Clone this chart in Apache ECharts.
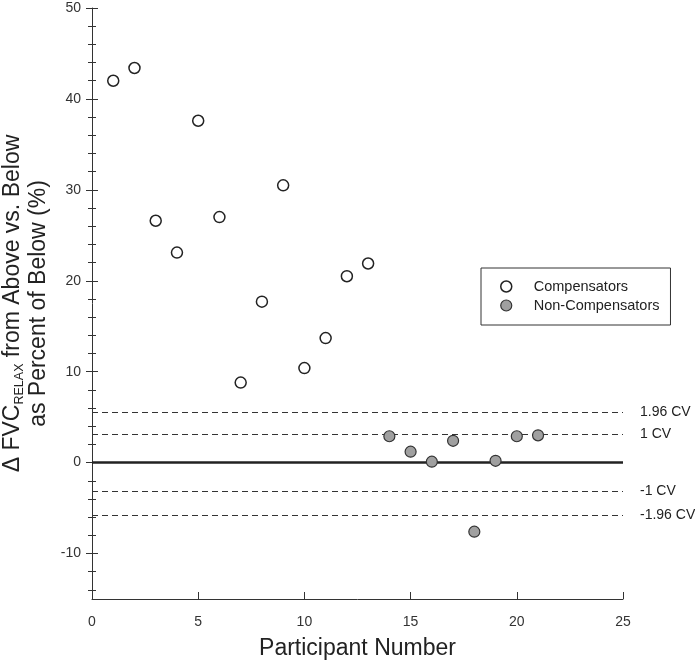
<!DOCTYPE html>
<html>
<head>
<meta charset="utf-8">
<script src="https://cdn.jsdelivr.net/npm/echarts@6/dist/echarts.min.js"></script>
<style>html,body{margin:0;padding:0;background:#fff}#c{width:695px;height:666px}</style>
</head>
<body>
<div id="c"></div>
<script>
const compParticipants = [1,2,3,4,5,6,7,8,9,10,11,12,13];
const compValues = [42.0,43.4,26.6,23.1,37.6,27.0,8.8,17.7,30.5,10.4,13.7,20.5,21.9];
const nonCompParticipants = [14,15,16,17,18,19,20,21];
const nonCompValues = [2.9,1.2,0.1,2.4,-7.6,0.2,2.9,3.0];
const cvLines = [
  {name:'1.96 CV', value:5.5},
  {name:'1 CV', value:3.1},
  {name:'-1 CV', value:-3.1},
  {name:'-1.96 CV', value:-5.8}
];
const yMajorTicks = [-10,0,10,20,30,40,50];
const yMinorTicks = [-14,-12,-8,-6,-4,-2,2,4,6,8,12,14,16,18,22,24,26,28,32,34,36,38,42,44,46,48];
const xTicks = [0,5,10,15,20,25];

const txt = '#333';
const chart = echarts.init(document.getElementById('c'));
function yAx(tickVals, inside, len, main){
  return {
    type:'value', min:-15, max:50, position:'left', offset:0,
    axisLine:{show:main, onZero:false, lineStyle:{color:txt, width:1}},
    axisTick:{show:true, inside:inside, length:len, customValues:tickVals, lineStyle:{color:txt, width:1}},
    axisLabel:{show:main, customValues:yMajorTicks, color:txt, fontSize:14, margin:11, fontFamily:'Liberation Sans'},
    splitLine:{show:false},
    name: main ? '{a|\u0394 FVC}{sub|RELAX}{a| from Above vs. Below}\n{b|as Percent of Below (%)}' : '',
    nameLocation:'middle', nameGap:34, nameRotate:90,
    nameTextStyle:{
      color:'#222', fontFamily:'Liberation Sans',
      rich:{
        a:{fontSize:23, lineHeight:25.5, color:'#222', fontFamily:'Liberation Sans'},
        b:{fontSize:23, lineHeight:25.5, color:'#222', fontFamily:'Liberation Sans'},
        sub:{fontSize:12.5, lineHeight:2, color:'#222', verticalAlign:'bottom', fontFamily:'Liberation Sans'}
      }
    }
  };
}
const option = {
  animation:false,
  grid:{left:92, top:8, right:72, bottom:67, outerBoundsMode:'none', containLabel:false},
  legend:{
    orient:'vertical', left:481, top:268,
    borderColor:'#333', borderWidth:1, borderRadius:0,
    padding:[11,11,12,19], itemGap:4, itemWidth:11, itemHeight:11,
    textStyle:{color:'#222', fontSize:14.5, lineHeight:14, fontFamily:'Liberation Sans', padding:[0,0,0,17]},
    data:[
      {name:'Compensators', icon:'circle', itemStyle:{color:'#fff', borderColor:'#222', borderWidth:1.5}},
      {name:'Non-Compensators', icon:'circle', itemStyle:{color:'#a0a0a0', borderColor:'#333', borderWidth:1.2}}
    ]
  },
  xAxis:{
    type:'value', min:0, max:25, interval:5,
    axisLine:{onZero:false, lineStyle:{color:txt}},
    axisTick:{inside:true, length:7, lineStyle:{color:txt}},
    axisLabel:{color:txt, fontSize:14, margin:16, fontFamily:'Liberation Sans', customValues:xTicks},
    splitLine:{show:false},
    name:'Participant Number', nameLocation:'middle', nameGap:38,
    nameTextStyle:{color:'#222', fontSize:23, fontFamily:'Liberation Sans'}
  },
  yAxis:[
    yAx(yMajorTicks, false, 6, true),
    yAx(yMajorTicks, true, 6, false),
    yAx(yMinorTicks, false, 4, false),
    yAx(yMinorTicks, true, 4, false)
  ],
  series:[
    {
      name:'Compensators', type:'scatter', yAxisIndex:0, symbol:'circle', symbolSize:11,
      itemStyle:{color:'#fff', borderColor:'#222', borderWidth:1.5, opacity:1},
      data: compParticipants.map((p,i)=>[p, compValues[i]]),
      z:5,
      markLine:{
        silent:true, symbol:'none', animation:false,
        lineStyle:{color:'#222', type:'solid', width:2.5},
        label:{show:false},
        data:[{yAxis:0}]
      }
    },
    {
      name:'Non-Compensators', type:'scatter', yAxisIndex:0, symbol:'circle', symbolSize:11,
      itemStyle:{color:'#a0a0a0', borderColor:'#333', borderWidth:1.2, opacity:1},
      data: nonCompParticipants.map((p,i)=>[p, nonCompValues[i]]),
      z:5,
      markLine:{
        silent:true, symbol:'none', animation:false,
        lineStyle:{color:'#333', type:[6,4], width:1},
        label:{show:true, position:'end', distance:17, formatter:p=>p.name, color:'#222', fontSize:14, fontFamily:'Liberation Sans'},
        data: cvLines.map(c=>({name:c.name, yAxis:c.value}))
      }
    }
  ]
};
chart.setOption(option);
</script>
</body>
</html>
